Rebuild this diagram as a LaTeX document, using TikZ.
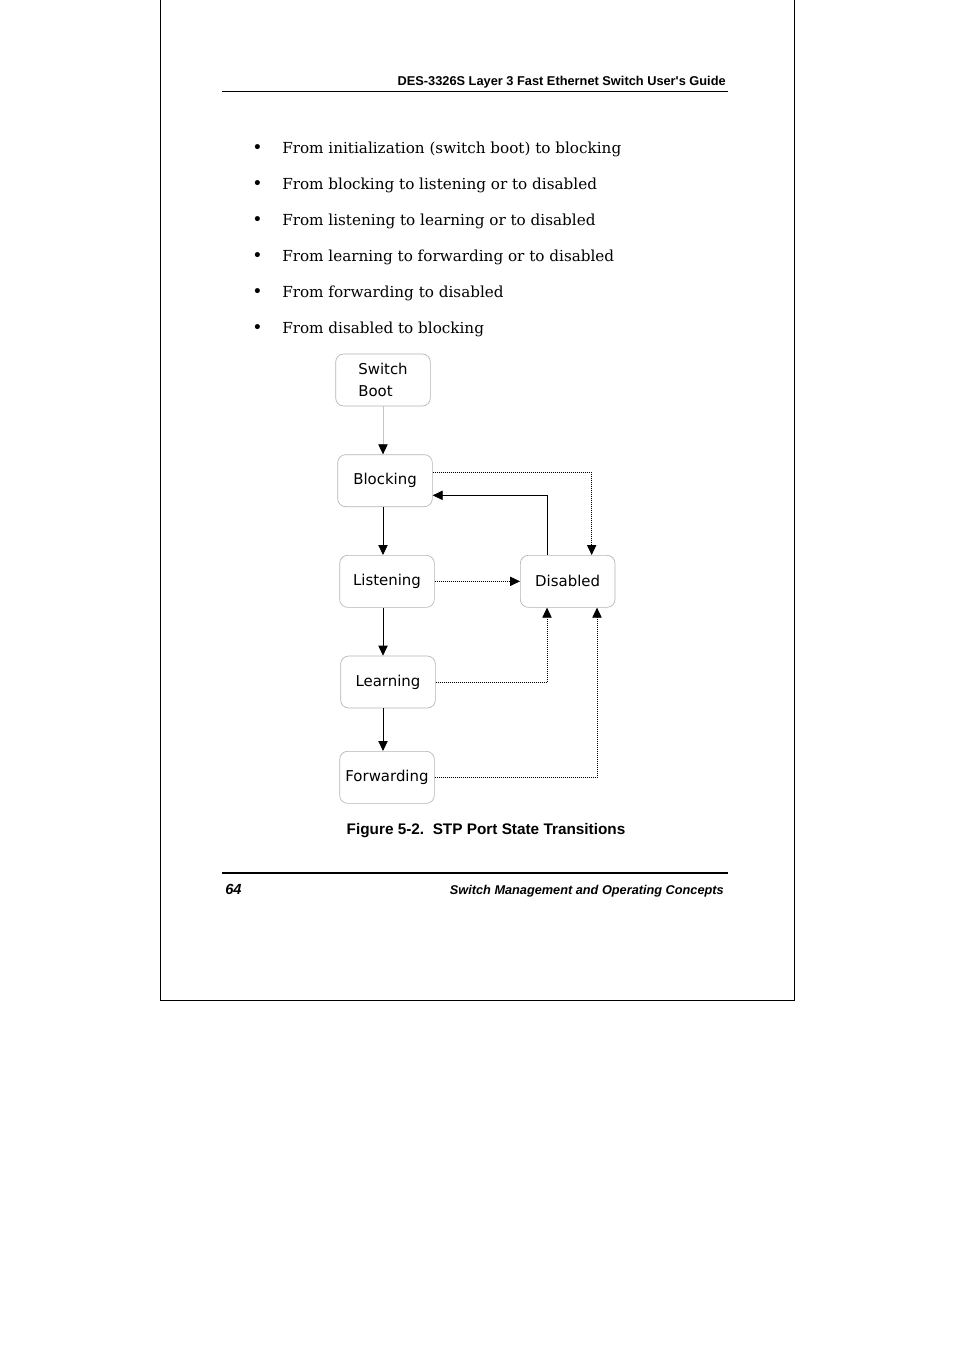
\documentclass[tikz,border=0pt]{standalone}
\usepackage{fontspec}
\setmainfont{DejaVu Serif}
\newfontfamily\arialfont{Liberation Sans}
\newfontfamily\statefont{DejaVu Sans}
\usetikzlibrary{arrows.meta, positioning}
\definecolor{BoxGray}{HTML}{B4B4B4}
\definecolor{LineGray}{HTML}{C4C4C4}

\begin{document}
\begin{tikzpicture}[
    x=0.75pt, y=-0.75pt,
    node distance=36pt and 64pt,
    state/.style={draw=BoxGray, rounded corners=6pt, line width=0.5pt, minimum width=71pt, minimum height=39pt, align=center, font=\statefont\fontsize{11.2}{16.5}\selectfont, inner sep=2pt},
    arrow/.style={-{Triangle[length=7.5pt, width=7pt]}, line width=0.6pt},
    dotarrow/.style={arrow, dash pattern=on 0.6pt off 0.9pt},
    bullettext/.style={anchor=base west, font=\fontsize{11.4}{13}\selectfont, inner sep=0pt},
    headtext/.style={inner sep=0pt, font=\arialfont\bfseries\fontsize{9.6}{11}\selectfont}
  ]
  \useasboundingbox[fill=white] (0,0) rectangle (954,1351);
  \draw[line width=0.75pt] (160,0) rectangle (794,1000);

  % Page head and foot
  \node[headtext, anchor=base east] (head) at (726,86) {DES-3326S Layer 3 Fast Ethernet Switch User's Guide};
  \draw[line width=0.75pt] (222,91.5) -- (728,91.5);
  \draw[line width=2.2pt] (222,873) -- (728,873);
  \node[headtext, anchor=base west, font=\arialfont\bfseries\itshape\fontsize{11}{12}\selectfont] (pageno) at (225,894) {64};
  \node[headtext, anchor=base east, font=\arialfont\bfseries\itshape\fontsize{9.55}{11}\selectfont] (foot) at (724,894) {Switch Management and Operating Concepts};

  % Bullets
  \foreach \txt [count=\i] in {From initialization (switch boot) to blocking,
      From blocking to listening or to disabled,
      From listening to learning or to disabled,
      From learning to forwarding or to disabled,
      From forwarding to disabled,
      From disabled to blocking} {
    \node[bullettext, font=\fontsize{13}{13}\selectfont] (dot\i) at (252,117.5+36*\i) {\textbullet};
    \node[bullettext] (item\i) at (282,117.5+36*\i) {\txt};
  }

  % Nodes
  \node[state, align=left] (boot) at (383,380) {Switch\\Boot};
  \node[state, below=of boot, xshift=1.5pt] (blocking) {Blocking};
  \node[state, below=of blocking, xshift=1.5pt] (listening) {Listening};
  \node[state, right=of listening] (disabled) {Disabled};
  \node[state, below=of listening, xshift=0.75pt] (learning) {Learning};
  \node[state, below=32pt of learning, xshift=-0.75pt] (forwarding) {Forwarding};

  % Edges
  \draw[arrow, draw=LineGray, -{Triangle[length=7.5pt, width=7pt, color=black]}] (boot) -- (boot |- blocking.north);
  \draw[arrow] (blocking.south -| boot) -- (listening.north -| boot);
  \draw[arrow] (listening.south -| boot) -- (learning.north -| boot);
  \draw[arrow] (learning.south -| boot) -- (forwarding.north -| boot);
  \draw[arrow] ([xshift=-15.5pt]disabled.north) |- ([yshift=-11pt]blocking.east);
  \draw[dotarrow] ([yshift=6pt]blocking.east) -| ([xshift=18pt]disabled.north);
  \draw[dotarrow] (listening) -- (disabled);
  \draw[dotarrow] (learning.east) -| ([xshift=-15.5pt]disabled.south);
  \draw[dotarrow] (forwarding.east) -| ([xshift=22pt]disabled.south);

  % Caption
  \node[headtext, font=\arialfont\bfseries\fontsize{11.5}{13}\selectfont] (caption) at (486,831) {Figure 5-2.\ \ STP Port State Transitions};
\end{tikzpicture}
\end{document}
